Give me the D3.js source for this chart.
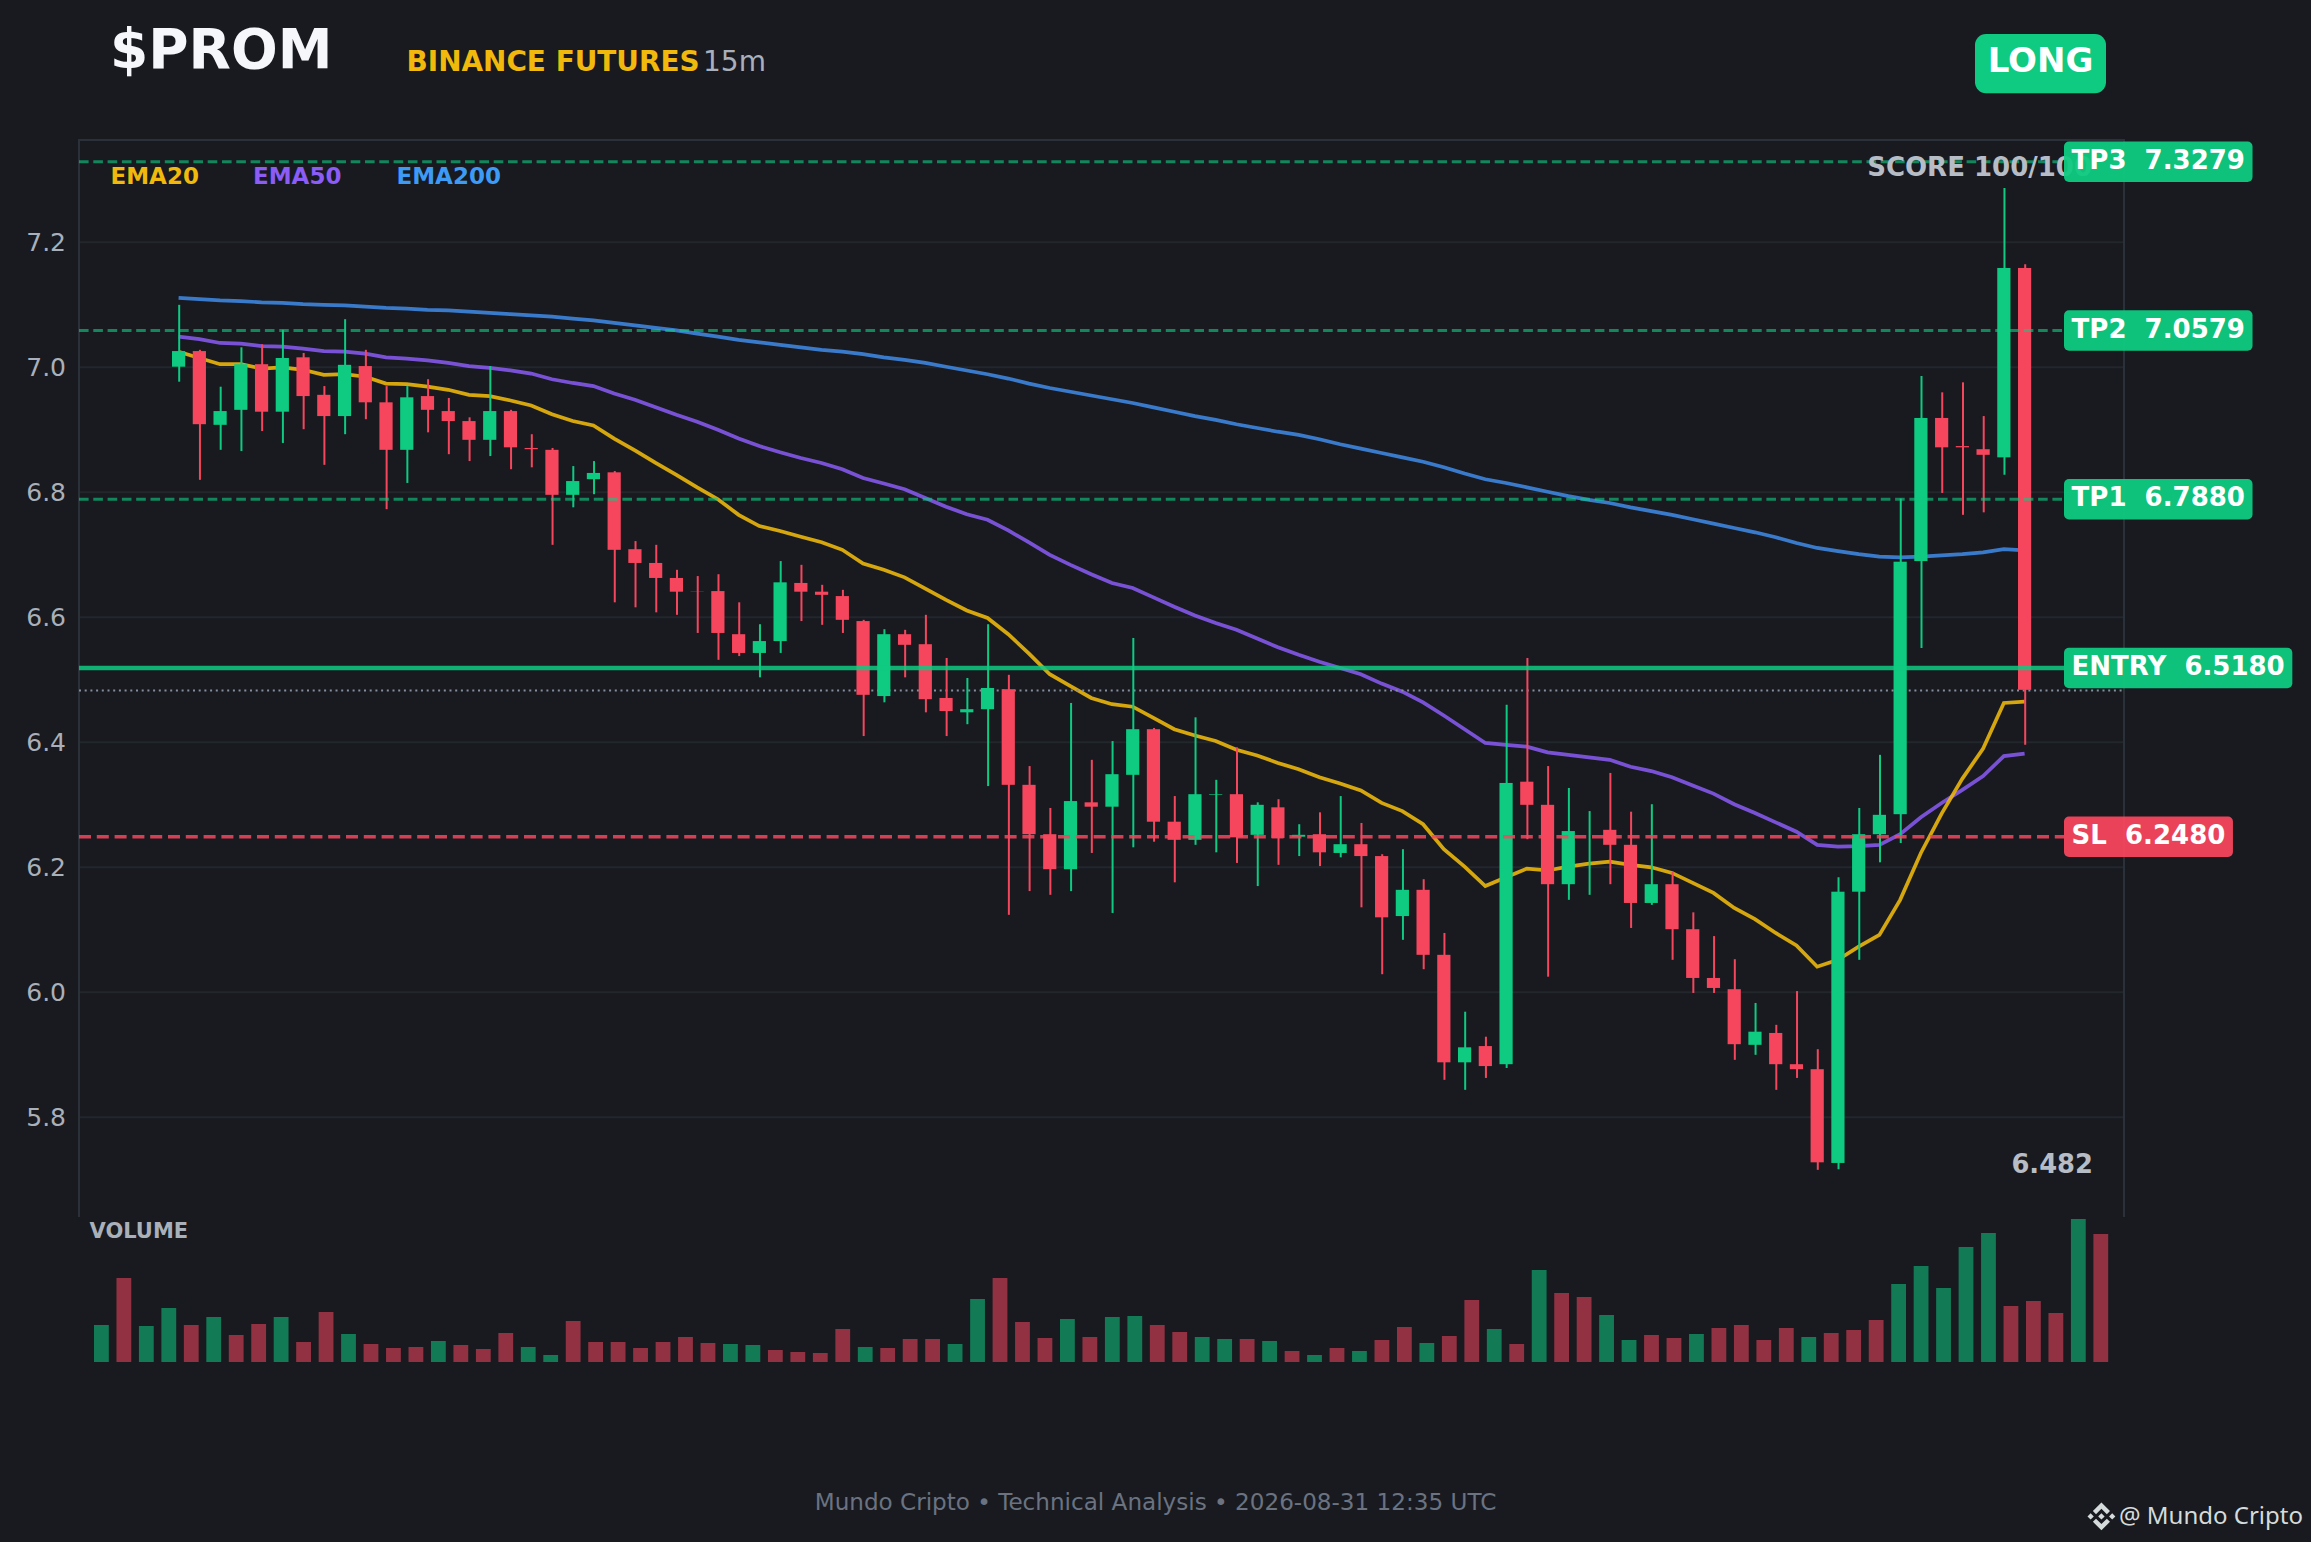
<!DOCTYPE html>
<html>
<head>
<meta charset="utf-8">
<title>$PROM</title>
<script src="https://cdn.jsdelivr.net/npm/d3@7"></script>
<style>
  html, body { margin: 0; padding: 0; background: #181a20; }
  svg { display: block; }
  text { font-family: "DejaVu Sans", sans-serif; white-space: pre; }
</style>
</head>
<body>
<div id="chart"></div>
<script>
// candles
var opens = [7.000, 7.025, 6.907, 6.931, 7.004, 6.928, 7.015, 6.955, 6.921, 7.001,
    6.943, 6.867, 6.953, 6.929, 6.913, 6.883, 6.929, 6.870, 6.867, 6.795,
    6.820, 6.831, 6.708, 6.686, 6.662, 6.6404, 6.641, 6.572, 6.542, 6.561,
    6.654, 6.640, 6.633, 6.593, 6.473, 6.572, 6.556, 6.470, 6.447, 6.452,
    6.484, 6.331, 6.252, 6.196, 6.303, 6.296, 6.347, 6.420, 6.272, 6.243,
    6.315, 6.316, 6.251, 6.295, 6.248, 6.252, 6.222, 6.236, 6.217, 6.121,
    6.163, 6.059, 5.887, 5.913, 5.884, 6.336, 6.299, 6.172, 6.257, 6.259,
    6.235, 6.142, 6.172, 6.100, 6.022, 6.004, 5.915, 5.934, 5.884, 5.876,
    5.726, 6.160, 6.252, 6.284, 6.689, 6.918, 6.873, 6.868, 6.855, 7.158];
var highs = [7.099, 7.027, 6.968, 7.031, 7.036, 7.059, 7.022, 6.969, 7.076, 7.027,
    6.969, 6.969, 6.980, 6.950, 6.919, 7.001, 6.931, 6.892, 6.870, 6.841,
    6.849, 6.833, 6.721, 6.715, 6.675, 6.665, 6.668, 6.623, 6.588, 6.689,
    6.683, 6.651, 6.643, 6.595, 6.580, 6.579, 6.603, 6.534, 6.502, 6.588,
    6.507, 6.361, 6.294, 6.462, 6.371, 6.401, 6.566, 6.422, 6.313, 6.439,
    6.339, 6.391, 6.303, 6.308, 6.268, 6.287, 6.313, 6.270, 6.220, 6.228,
    6.180, 6.094, 5.968, 5.928, 6.459, 6.534, 6.361, 6.326, 6.289, 6.350,
    6.288, 6.300, 6.192, 6.127, 6.089, 6.052, 5.982, 5.947, 6.001, 5.908,
    6.183, 6.294, 6.379, 6.789, 6.985, 6.959, 6.975, 6.921, 7.286, 7.164];
var lows = [6.976, 6.819, 6.867, 6.865, 6.897, 6.878, 6.900, 6.843, 6.892, 6.916,
    6.772, 6.814, 6.895, 6.860, 6.849, 6.857, 6.836, 6.839, 6.715, 6.775,
    6.796, 6.623, 6.615, 6.607, 6.603, 6.574, 6.531, 6.537, 6.503, 6.542,
    6.593, 6.587, 6.574, 6.409, 6.463, 6.503, 6.447, 6.409, 6.428, 6.329,
    6.123, 6.161, 6.155, 6.161, 6.222, 6.126, 6.231, 6.240, 6.175, 6.235,
    6.223, 6.206, 6.169, 6.203, 6.217, 6.201, 6.215, 6.135, 6.028, 6.083,
    6.036, 5.859, 5.843, 5.862, 5.878, 6.244, 6.024, 6.147, 6.155, 6.172,
    6.102, 6.139, 6.051, 5.998, 5.998, 5.891, 5.899, 5.843, 5.862, 5.715,
    5.716, 6.051, 6.207, 6.238, 6.550, 6.798, 6.763, 6.767, 6.827, 6.395];
var closes = [7.025, 6.908, 6.929, 7.004, 6.928, 7.014, 6.953, 6.921, 7.003, 6.943,
    6.867, 6.951, 6.931, 6.913, 6.883, 6.929, 6.871, 6.868, 6.795, 6.817,
    6.830, 6.707, 6.686, 6.662, 6.640, 6.640, 6.574, 6.542, 6.561, 6.655,
    6.640, 6.635, 6.595, 6.475, 6.572, 6.555, 6.468, 6.449, 6.452, 6.486,
    6.331, 6.252, 6.196, 6.305, 6.296, 6.348, 6.420, 6.272, 6.243, 6.316,
    6.316, 6.247, 6.299, 6.246, 6.251, 6.223, 6.236, 6.217, 6.119, 6.163,
    6.059, 5.887, 5.911, 5.881, 6.334, 6.299, 6.172, 6.257, 6.257, 6.235,
    6.142, 6.172, 6.100, 6.022, 6.006, 5.916, 5.936, 5.884, 5.876, 5.727,
    6.160, 6.252, 6.283, 6.688, 6.918, 6.871, 6.871, 6.859, 7.158, 6.483];

var ema20 = [7.024, 7.014, 7.004, 7.004, 6.997, 6.999, 6.995, 6.987, 6.988, 6.984,
    6.973, 6.972, 6.968, 6.963, 6.955, 6.953, 6.946, 6.938, 6.924, 6.913,
    6.906, 6.885, 6.866, 6.846, 6.827, 6.807, 6.788, 6.763, 6.745, 6.737,
    6.728, 6.719, 6.707, 6.685, 6.675, 6.663, 6.645, 6.627, 6.610, 6.598,
    6.572, 6.541, 6.508, 6.489, 6.470, 6.460, 6.456, 6.438, 6.420, 6.410,
    6.401, 6.387, 6.378, 6.366, 6.356, 6.343, 6.333, 6.322, 6.302, 6.289,
    6.268, 6.228, 6.200, 6.169, 6.183, 6.197, 6.194, 6.200, 6.205, 6.208,
    6.203, 6.199, 6.190, 6.174, 6.158, 6.134, 6.116, 6.094, 6.074, 6.040,
    6.051, 6.072, 6.091, 6.147, 6.222, 6.285, 6.341, 6.389, 6.462, 6.464];
var ema50 = [7.048, 7.044, 7.038, 7.037, 7.033, 7.032, 7.029, 7.025, 7.024, 7.021,
    7.015, 7.013, 7.010, 7.006, 7.001, 6.998, 6.994, 6.989, 6.980, 6.974,
    6.969, 6.957, 6.947, 6.935, 6.923, 6.912, 6.899, 6.885, 6.873, 6.863,
    6.854, 6.846, 6.836, 6.822, 6.813, 6.804, 6.790, 6.776, 6.764, 6.755,
    6.738, 6.719, 6.699, 6.683, 6.668, 6.654, 6.646, 6.631, 6.616, 6.602,
    6.590, 6.579, 6.565, 6.551, 6.539, 6.528, 6.518, 6.508, 6.493, 6.480,
    6.463, 6.442, 6.420, 6.398, 6.395, 6.392, 6.383, 6.379, 6.375, 6.371,
    6.360, 6.353, 6.343, 6.330, 6.317, 6.300, 6.286, 6.271, 6.256, 6.235,
    6.232, 6.233, 6.235, 6.252, 6.279, 6.302, 6.323, 6.345, 6.377, 6.381];
var ema200 = [7.110, 7.108, 7.106, 7.105, 7.103, 7.102, 7.100, 7.099, 7.098, 7.096,
    7.094, 7.093, 7.091, 7.090, 7.088, 7.086, 7.084, 7.082, 7.080, 7.077,
    7.074, 7.070, 7.066, 7.062, 7.058, 7.053, 7.048, 7.043, 7.039, 7.035,
    7.031, 7.027, 7.024, 7.020, 7.015, 7.011, 7.006, 7.000, 6.994, 6.988,
    6.981, 6.973, 6.966, 6.960, 6.954, 6.948, 6.942, 6.935, 6.928, 6.921,
    6.915, 6.908, 6.902, 6.896, 6.891, 6.884, 6.876, 6.869, 6.862, 6.855,
    6.848, 6.839, 6.829, 6.820, 6.814, 6.807, 6.800, 6.793, 6.787, 6.782,
    6.775, 6.769, 6.763, 6.756, 6.749, 6.742, 6.735, 6.727, 6.718, 6.710,
    6.705, 6.700, 6.696, 6.695, 6.696, 6.698, 6.700, 6.703, 6.708, 6.706];

// volume in picture units, only the proportions are known
var volumes = [111, 252, 108, 162, 111, 135, 81, 114, 135, 60,
    150, 84, 54, 42, 45, 63, 51, 39, 87, 45,
    21, 123, 60, 60, 42, 60, 75, 57, 54, 51,
    36, 30, 27, 99, 45, 42, 69, 69, 54, 189,
    252, 120, 72, 129, 75, 135, 138, 111, 90, 75,
    69, 69, 63, 33, 21, 42, 33, 66, 105, 57,
    78, 186, 99, 54, 276, 207, 195, 141, 66, 81,
    72, 84, 102, 111, 66, 102, 75, 87, 96, 126,
    234, 288, 222, 345, 387, 168, 183, 147, 429, 384];

var yTicks = [7.2, 7.0, 6.8, 6.6, 6.4, 6.2, 6.0, 5.8];
var levelNames = ["TP3", "TP2", "TP1", "ENTRY", "SL"];
var levelValues = [7.3279, 7.0579, 6.7880, 6.5180, 6.2480];
var lastPrice = 6.482;
var legendNames = ["EMA20", "EMA50", "EMA200"];

var green = "#0ecb81", red = "#f6465d", yellow = "#f0b90b", purple = "#8b5cf6", blue = "#3f87e2";

var width = 2311, height = 1542;
var margin = { top: 140, right: 2124, bottom: 1217, left: 79 };

var svg = d3.select("#chart").append("svg")
    .attr("width", width)
    .attr("height", height)
    .style("background", "#181a20");

var idx = d3.range(opens.length);

// candle slots and volume slots do not line up in the reference
var x = d3.scaleLinear().domain([0, 89]).range([178.6, 2024.6]);
var xVol = d3.scaleLinear().domain([0, 89]).range([101.4, 2100.8]);
var y = d3.scaleLinear().domain([7.0, 5.8]).range([366.7, 1116.7]);
var yVol = d3.scaleLinear().domain([0, d3.max(volumes)]).range([1362, 1219]);

// grid and y labels
var yAxis = svg.append("g")
    .attr("transform", "translate(" + margin.left + ",0)")
    .call(d3.axisLeft(y).tickValues(yTicks).tickFormat(d3.format(".1f"))
        .tickSize(-(margin.right - margin.left)).tickPadding(13));
yAxis.select(".domain").remove();
yAxis.selectAll("line").attr("stroke", "#22272c").attr("stroke-width", 2);
yAxis.selectAll("text")
    .attr("fill", "#aab0b9")
    .attr("dy", "0.36em")
    .style("font-size", "25px");

// spines
svg.append("path")
    .attr("d", "M" + margin.left + "," + margin.bottom + "V" + margin.top + "H" + margin.right + "V" + margin.bottom)
    .attr("fill", "none")
    .attr("stroke", "#2b3139")
    .attr("stroke-width", 2);

// ema lines go under the candles
var line = d3.line().x(function (d, i) { return x(i); }).y(function (d) { return y(d); });
var emaSeries = [[ema200, blue, 0.88], [ema50, purple, 0.85], [ema20, yellow, 0.88]];
emaSeries.forEach(function (s) {
    svg.append("path")
        .datum(s[0])
        .attr("d", line)
        .attr("fill", "none")
        .attr("stroke", s[1])
        .attr("stroke-opacity", s[2])
        .attr("stroke-width", 3.7);
});

// last price dotted line
svg.append("line")
    .attr("x1", margin.left).attr("x2", margin.right)
    .attr("y1", y(lastPrice)).attr("y2", y(lastPrice))
    .attr("stroke", "#848e9c")
    .attr("stroke-width", 2)
    .attr("stroke-dasharray", "2,3.7");

// candles
function candleColor(i) { return closes[i] >= opens[i] ? green : red; }

svg.append("g").selectAll("line").data(idx).join("line")
    .attr("x1", function (i) { return x(i) + 0.6; })
    .attr("x2", function (i) { return x(i) + 0.6; })
    .attr("y1", function (i) { return y(highs[i]); })
    .attr("y2", function (i) { return y(lows[i]); })
    .attr("stroke", candleColor)
    .attr("stroke-width", 2);

var bodyW = 13.2;
svg.append("g").selectAll("rect").data(idx).join("rect")
    .attr("x", function (i) { return x(i) - bodyW / 2; })
    .attr("width", bodyW)
    .attr("y", function (i) { return y(Math.max(opens[i], closes[i])); })
    .attr("height", function (i) { return Math.abs(y(opens[i]) - y(closes[i])); })
    .attr("fill", candleColor);

// level lines sit over the candles
var levelColors = [green, green, green, green, red];
var levelDash = ["9.6,4.7", "9.6,4.7", "9.6,4.7", null, "12,5.8"];
var levelOpacity = [0.62, 0.62, 0.62, 0.85, 0.85];
var levelWidth = [3, 3, 3, 4.6, 3.4];
levelValues.forEach(function (v, i) {
    svg.append("line")
        .attr("x1", margin.left).attr("x2", 2064)
        .attr("y1", y(v)).attr("y2", y(v))
        .attr("stroke", levelColors[i])
        .attr("stroke-opacity", levelOpacity[i])
        .attr("stroke-width", levelWidth[i])
        .attr("stroke-dasharray", levelDash[i]);
});

// legend
var legendX = [110.5, 253, 396.5];
var legendColors = [yellow, purple, "#3d9bf5"];
legendNames.forEach(function (n, i) {
    svg.append("text")
        .attr("x", legendX[i]).attr("y", 184)
        .attr("fill", legendColors[i])
        .attr("font-weight", "bold")
        .style("font-size", "23px")
        .text(n);
});

svg.append("text")
    .attr("x", 2092).attr("y", 175.5)
    .attr("text-anchor", "end")
    .attr("fill", "#b7bdc6")
    .attr("font-weight", "bold")
    .style("font-size", "26px")
    .text("SCORE 100/100");

svg.append("text")
    .attr("x", 2093).attr("y", 1173)
    .attr("text-anchor", "end")
    .attr("fill", "#b7bdc6")
    .attr("font-weight", "bold")
    .style("font-size", "25.8px")
    .text(lastPrice.toFixed(3));

// right hand badges
levelValues.forEach(function (v, i) {
    var cy = y(v);
    var g = svg.append("g");
    var rect = g.append("rect")
        .attr("x", 2064).attr("y", cy - 20.2)
        .attr("height", 40.4)
        .attr("rx", 5)
        .attr("fill", levelColors[i])
        .attr("fill-opacity", 0.95);
    var label = g.append("text")
        .attr("x", 2071.6).attr("y", cy + 7)
        .attr("fill", "#ffffff")
        .attr("font-weight", "bold")
        .style("font-size", "26px")
        .text(levelNames[i] + "  " + v.toFixed(4));
    rect.attr("width", label.node().getComputedTextLength() + 15.2);
});

// volume
svg.append("text")
    .attr("x", 89.5).attr("y", 1238.3)
    .attr("fill", "#aab0b9")
    .attr("font-weight", "bold")
    .style("font-size", "21px")
    .text("VOLUME");

svg.append("g").selectAll("rect").data(idx).join("rect")
    .attr("x", function (i) { return xVol(i) - 7.4; })
    .attr("width", 14.8)
    .attr("y", function (i) { return yVol(volumes[i]); })
    .attr("height", function (i) { return yVol(0) - yVol(volumes[i]); })
    .attr("fill", candleColor)
    .attr("fill-opacity", 0.55);

// header
svg.append("text")
    .attr("x", 110).attr("y", 68)
    .attr("fill", "#f5f7fa")
    .attr("font-weight", "bold")
    .style("font-size", "55px")
    .text("$PROM");

svg.append("text")
    .attr("x", 406.5).attr("y", 70.5)
    .attr("fill", yellow)
    .attr("font-weight", "bold")
    .style("font-size", "27.9px")
    .text("BINANCE FUTURES");

svg.append("text")
    .attr("x", 703).attr("y", 70.5)
    .attr("fill", "#aab0b9")
    .style("font-size", "28px")
    .text("15m");

svg.append("rect")
    .attr("x", 1975).attr("y", 34)
    .attr("width", 131).attr("height", 59.3)
    .attr("rx", 11)
    .attr("fill", green);

svg.append("text")
    .attr("x", 2040.5).attr("y", 72)
    .attr("text-anchor", "middle")
    .attr("fill", "#ffffff")
    .attr("font-weight", "bold")
    .style("font-size", "34px")
    .text("LONG");

// footer
svg.append("text")
    .attr("x", width / 2).attr("y", 1510)
    .attr("text-anchor", "middle")
    .attr("fill", "#6b7280")
    .style("font-size", "23.1px")
    .text("Mundo Cripto \u2022 Technical Analysis \u2022 2026-08-31 12:35 UTC");

// watermark
svg.append("path")
    .attr("transform", "translate(2087.5,1502.5) scale(0.22)")
    .attr("fill", "#d5dbdb")
    .attr("d", "M38.73 53.2l24.59-24.58 24.6 24.6 14.3-14.31L63.32 0 24.43 38.88zM0 63.31l14.3-14.31 14.31 14.31-14.31 14.3zM38.73 73.41l24.59 24.59 24.6-24.6 14.31 14.29-38.9 38.91-38.88-38.88zM98 63.31l14.3-14.31 14.31 14.3-14.31 14.32zM77.83 63.3L63.32 48.78 52.59 59.51l-1.24 1.23-2.54 2.54 14.51 14.5 14.51-14.47z");

svg.append("text")
    .attr("x", 2119).attr("y", 1524)
    .attr("fill", "#d5dbdb")
    .style("font-family", "'Noto Sans', sans-serif")
    .style("font-size", "24px")
    .text("@ Mundo Cripto");
</script>
</body>
</html>
